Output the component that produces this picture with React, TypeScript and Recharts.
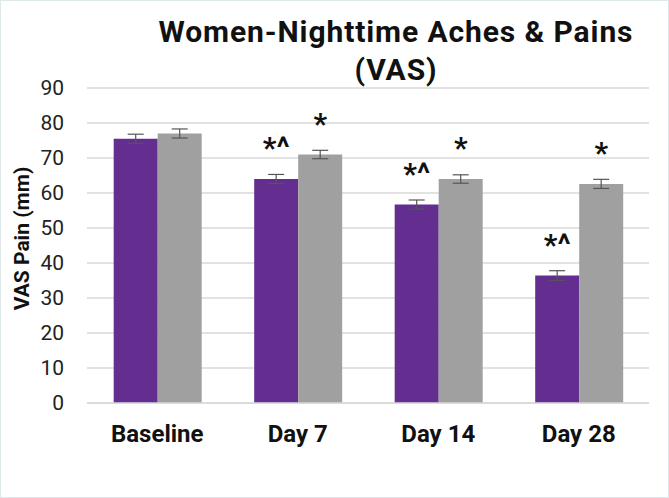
import React from 'react';
import {
  BarChart,
  Bar,
  XAxis,
  YAxis,
  CartesianGrid,
  ErrorBar,
  LabelList,
} from 'recharts';

const categories = ['Baseline', 'Day 7', 'Day 14', 'Day 28'];
const purpleValues = [75.5, 64, 56.7, 36.4];
const grayValues = [77, 71, 64, 62.6];
const purpleErr = [1.3, 1.3, 1.3, 1.4];
const grayErr = [1.3, 1.2, 1.2, 1.3];
const purpleMarks = ['', '*^', '*^', '*^'];
const grayMarks = ['', '*', '*', '*'];
const yTicks = [0, 10, 20, 30, 40, 50, 60, 70, 80, 90];

const data = categories.map((name, i) => ({
  name,
  purple: purpleValues[i],
  gray: grayValues[i],
  purpleErr: purpleErr[i],
  grayErr: grayErr[i],
  purpleMark: purpleMarks[i],
  grayMark: grayMarks[i],
}));

const FONT = 'Roboto, "Open Sans", sans-serif';

const markLabel = (props: any) => {
  const { x, y, width, value } = props;
  if (!value) return null;
  return (
    <text
      x={x + width / 2}
      y={y - 21}
      textAnchor="middle"
      fontFamily={FONT}
      fontWeight={700}
      fontSize={30}
      fill="#111"
    >
      {value}
    </text>
  );
};

export default function App() {
  return (
    <div
      style={{
        position: 'fixed',
        left: 0,
        top: 0,
        width: 669,
        height: 498,
        background: '#fff',
        boxSizing: 'border-box',
        border: '1px solid #dfe8e8',
        fontFamily: FONT,
      }}
    >
      <div
        style={{
          position: 'absolute',
          left: 95,
          width: 600,
          top: 12,
          textAlign: 'center',
          fontWeight: 700,
          fontSize: 30,
          letterSpacing: 0.9,
          lineHeight: '38px',
          color: '#111',
        }}
      >
        Women-Nighttime Aches &amp; Pains
        <br />
        (VAS)
      </div>
      <BarChart
        width={669}
        height={498}
        data={data}
        margin={{ top: 88, right: 20, bottom: 0, left: 0 }}
        barCategoryGap="19%"
        barGap={0}
        style={{ position: 'absolute', left: -1, top: -1 }}
      >
        <CartesianGrid vertical={false} stroke="#d9d9d9" strokeWidth={1.5} />
        <XAxis
          dataKey="name"
          height={95}
          axisLine={{ stroke: '#d9d9d9', strokeWidth: 1.5 }}
          tickLine={false}
          tick={{ fontSize: 24, fontWeight: 700, fill: '#111', fontFamily: FONT }}
          tickMargin={16}
        />
        <YAxis
          width={87}
          domain={[0, 90]}
          ticks={yTicks}
          interval={0}
          axisLine={false}
          tickLine={false}
          tick={{ fontSize: 21, fill: '#222', fontFamily: FONT }}
          tickMargin={17}
          label={{
            value: 'VAS Pain (mm)',
            angle: -90,
            position: 'insideLeft',
            offset: 22,
            dy: -7,
            style: {
              textAnchor: 'middle',
              fontSize: 21,
              fontWeight: 700,
              fill: '#111',
              fontFamily: FONT,
            },
          }}
        />
        <Bar dataKey="purple" fill="#632e8f" isAnimationActive={false}>
          <ErrorBar dataKey="purpleErr" width={8} stroke="#555" strokeWidth={1.2} />
          <LabelList dataKey="purpleMark" content={markLabel} />
        </Bar>
        <Bar dataKey="gray" fill="#a0a0a0" isAnimationActive={false}>
          <ErrorBar dataKey="grayErr" width={8} stroke="#555" strokeWidth={1.2} />
          <LabelList dataKey="grayMark" content={markLabel} />
        </Bar>
      </BarChart>
    </div>
  );
}
